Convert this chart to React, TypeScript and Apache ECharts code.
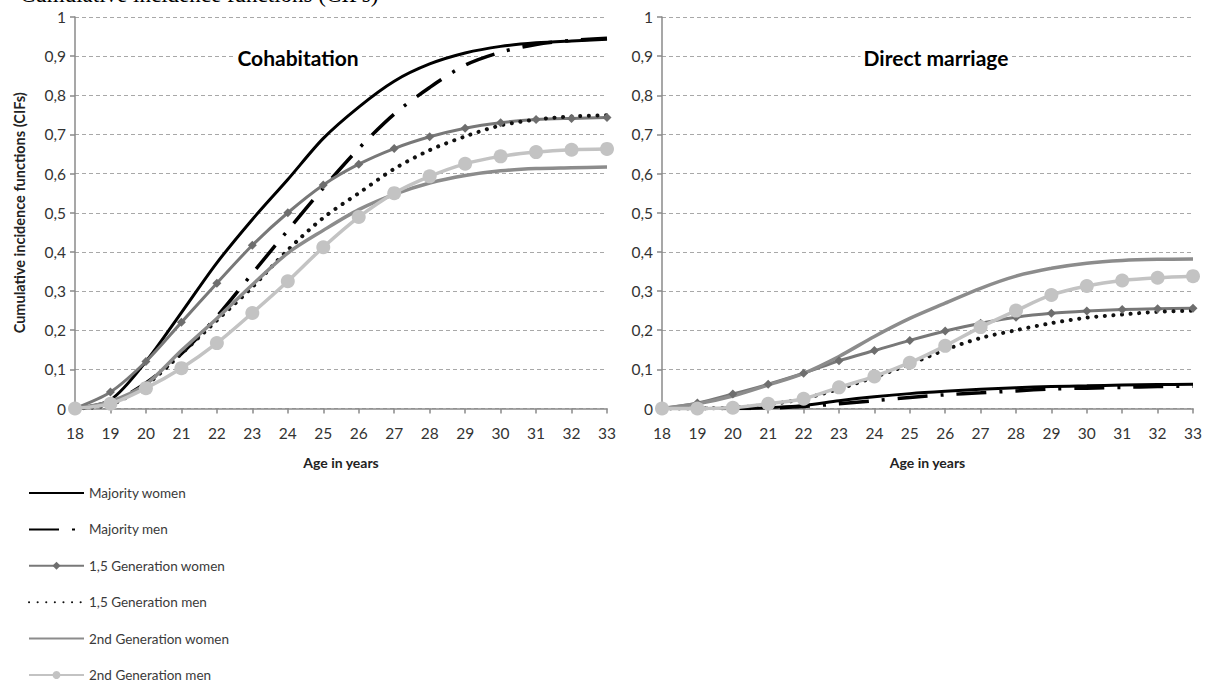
import React, { useEffect, useRef } from 'react';
import * as echarts from 'echarts';

const ages = ['18', '19', '20', '21', '22', '23', '24', '25', '26', '27', '28', '29', '30', '31', '32', '33'];
const yTicks = [0, 0.1, 0.2, 0.3, 0.4, 0.5, 0.6, 0.7, 0.8, 0.9, 1];
const seriesNames = ['Majority women', 'Majority men', '1,5 Generation women', '1,5 Generation men', '2nd Generation women', '2nd Generation men'];
const panelTitles = ['Cohabitation', 'Direct marriage'];
const yAxisTitle = 'Cumulative incidence functions (CIFs)';
const xAxisTitle = 'Age in years';
const figureTitle = 'Cumulative incidence functions (CIFs)';

// Cohabitation panel
const cohabMajorityWomen = [0, 0.022, 0.12, 0.245, 0.372, 0.483, 0.585, 0.69, 0.77, 0.836, 0.88, 0.908, 0.925, 0.934, 0.939, 0.943];
const cohabMajorityMen = [0, 0.015, 0.065, 0.14, 0.235, 0.345, 0.455, 0.563, 0.664, 0.752, 0.82, 0.877, 0.91, 0.93, 0.94, 0.946];
const cohab15Women = [0, 0.042, 0.12, 0.22, 0.32, 0.417, 0.5, 0.571, 0.624, 0.664, 0.694, 0.716, 0.73, 0.738, 0.741, 0.743];
const cohab15Men = [0, 0.01, 0.06, 0.14, 0.225, 0.31, 0.405, 0.487, 0.55, 0.612, 0.66, 0.695, 0.723, 0.738, 0.746, 0.749];
const cohab2ndWomen = [0, 0.018, 0.062, 0.148, 0.23, 0.316, 0.397, 0.455, 0.508, 0.547, 0.576, 0.595, 0.607, 0.613, 0.615, 0.617];
const cohab2ndMen = [0, 0.012, 0.052, 0.103, 0.167, 0.244, 0.325, 0.412, 0.489, 0.55, 0.593, 0.625, 0.644, 0.655, 0.661, 0.663];

// Direct marriage panel
const marrMajorityWomen = [0, 0, 0, 0.002, 0.008, 0.02, 0.03, 0.038, 0.044, 0.049, 0.053, 0.056, 0.058, 0.06, 0.061, 0.062];
const marrMajorityMen = [0, 0, 0, 0.001, 0.005, 0.012, 0.02, 0.028, 0.035, 0.04, 0.045, 0.05, 0.052, 0.054, 0.056, 0.057];
const marr15Women = [0, 0.014, 0.037, 0.062, 0.09, 0.122, 0.148, 0.174, 0.198, 0.218, 0.233, 0.243, 0.249, 0.253, 0.255, 0.256];
const marr15Men = [0, 0, 0.002, 0.01, 0.025, 0.05, 0.08, 0.113, 0.15, 0.18, 0.2, 0.218, 0.232, 0.24, 0.247, 0.25];
const marr2ndWomen = [0, 0.012, 0.032, 0.06, 0.09, 0.133, 0.184, 0.23, 0.269, 0.307, 0.338, 0.358, 0.371, 0.378, 0.381, 0.382];
const marr2ndMen = [0, 0, 0.002, 0.012, 0.025, 0.054, 0.082, 0.117, 0.16, 0.208, 0.25, 0.29, 0.313, 0.327, 0.334, 0.338];

const panelData = [
  [cohabMajorityWomen, cohabMajorityMen, cohab15Women, cohab15Men, cohab2ndWomen, cohab2ndMen],
  [marrMajorityWomen, marrMajorityMen, marr15Women, marr15Men, marr2ndWomen, marr2ndMen],
];

const FONT = 'Lato, "Noto Sans", sans-serif';

const seriesStyles: any[] = [
  { symbol: 'none', itemStyle: { color: '#000' }, lineStyle: { color: '#000', width: 3 } },
  { symbol: 'none', itemStyle: { color: '#000' }, lineStyle: { color: '#000', width: 3.5, type: [30, 13, 3, 13] } },
  { symbol: 'diamond', symbolSize: 9, itemStyle: { color: '#6e6e6e' }, lineStyle: { color: '#787878', width: 3 } },
  { symbol: 'none', itemStyle: { color: '#111' }, lineStyle: { color: '#111', width: 4, type: [0.1, 8.5], cap: 'round' } },
  { symbol: 'none', itemStyle: { color: '#8c8c8c' }, lineStyle: { color: '#8c8c8c', width: 3.5 } },
  { symbol: 'circle', symbolSize: 14, itemStyle: { color: '#c3c3c3' }, lineStyle: { color: '#c3c3c3', width: 3.5 } },
];

export default function App() {
  const ref = useRef<HTMLDivElement>(null);
  useEffect(() => {
    if (!ref.current) return;
    const chart = echarts.init(ref.current, undefined, { renderer: 'svg' });
    const grids = [
      { left: 75, top: 17, width: 532, height: 391.5 },
      { left: 662, top: 17, width: 531, height: 391.5 },
    ];
    const axisColor = '#8a8a8a';
    const labelColor = '#333';
    const xAxes = grids.map((_, i) => ({
      type: 'category',
      gridIndex: i,
      data: ages,
      boundaryGap: false,
      name: xAxisTitle,
      nameLocation: 'middle',
      nameGap: 47,
      nameTextStyle: { fontFamily: FONT, fontSize: 14, fontWeight: 'bold', color: '#222' },
      axisLine: { lineStyle: { color: axisColor, width: 1.5 } },
      axisTick: { show: true, length: 5, interval: 0, lineStyle: { color: axisColor, width: 1.5 } },
      axisLabel: { interval: 0, margin: 16, fontFamily: FONT, fontSize: 15.5, color: labelColor },
      splitLine: { show: false },
    }));
    const yAxes = grids.map((_, i) => ({
      type: 'value',
      gridIndex: i,
      min: yTicks[0],
      max: yTicks[yTicks.length - 1],
      interval: 0.1,
      name: i === 0 ? yAxisTitle : '',
      nameLocation: 'middle',
      nameGap: 48,
      nameTextStyle: { fontFamily: FONT, fontSize: 14.5, fontWeight: 'bold', color: '#222' },
      axisLine: { show: true, lineStyle: { color: axisColor, width: 1.5 } },
      axisTick: { show: true, length: 5, lineStyle: { color: axisColor, width: 1.5 } },
      axisLabel: {
        margin: 9,
        fontFamily: FONT,
        fontSize: 15.5,
        color: labelColor,
        formatter: (v: number) => String(Math.round(v * 10) / 10).replace('.', ','),
      },
      splitLine: { show: true, lineStyle: { color: '#a8a8a8', type: [4, 3], width: 1 } },
    }));
    const series: any[] = [];
    panelData.forEach((panel, p) => {
      panel.forEach((values, s) => {
        series.push({
          type: 'line',
          name: seriesNames[s],
          xAxisIndex: p,
          yAxisIndex: p,
          data: values,
          smooth: 0.3,
          ...seriesStyles[s],
        });
      });
    });
    const legendData = seriesNames.map((name, s) =>
      seriesStyles[s].symbol === 'none' ? { name, itemStyle: { opacity: 0 } } : { name }
    );
    chart.setOption({
      animation: false,
      backgroundColor: '#fff',
      grid: grids,
      xAxis: xAxes,
      yAxis: yAxes,
      legend: {
        orient: 'vertical',
        left: 28,
        top: 486,
        height: 230,
        padding: 0,
        itemWidth: 55,
        itemHeight: 10,
        itemGap: 22.4,
        data: legendData,
        textStyle: { fontFamily: FONT, fontSize: 13.5, color: '#3a3a3a' },
      },
      graphic: [
        {
          type: 'text',
          x: 298,
          y: 57,
          z: 100,
          style: {
            text: panelTitles[0],
            align: 'center',
            verticalAlign: 'middle',
            font: 'bold 21px ' + FONT,
            fill: '#000',
            backgroundColor: '#fff',
            padding: [0, 3],
          },
        },
        {
          type: 'text',
          x: 936,
          y: 57,
          z: 100,
          style: {
            text: panelTitles[1],
            align: 'center',
            verticalAlign: 'middle',
            font: 'bold 21px ' + FONT,
            fill: '#000',
            backgroundColor: '#fff',
            padding: [0, 3],
          },
        },
        {
          type: 'text',
          x: 20,
          y: 6,
          z: 100,
          style: {
            text: figureTitle,
            align: 'left',
            verticalAlign: 'bottom',
            font: '23px "Liberation Serif", serif',
            fill: '#000',
          },
        },
      ],
      series,
    });
    return () => chart.dispose();
  }, []);
  return (
    <div
      ref={ref}
      style={{ position: 'fixed', left: 0, top: 0, width: 1210, height: 688 }}
    />
  );
}
